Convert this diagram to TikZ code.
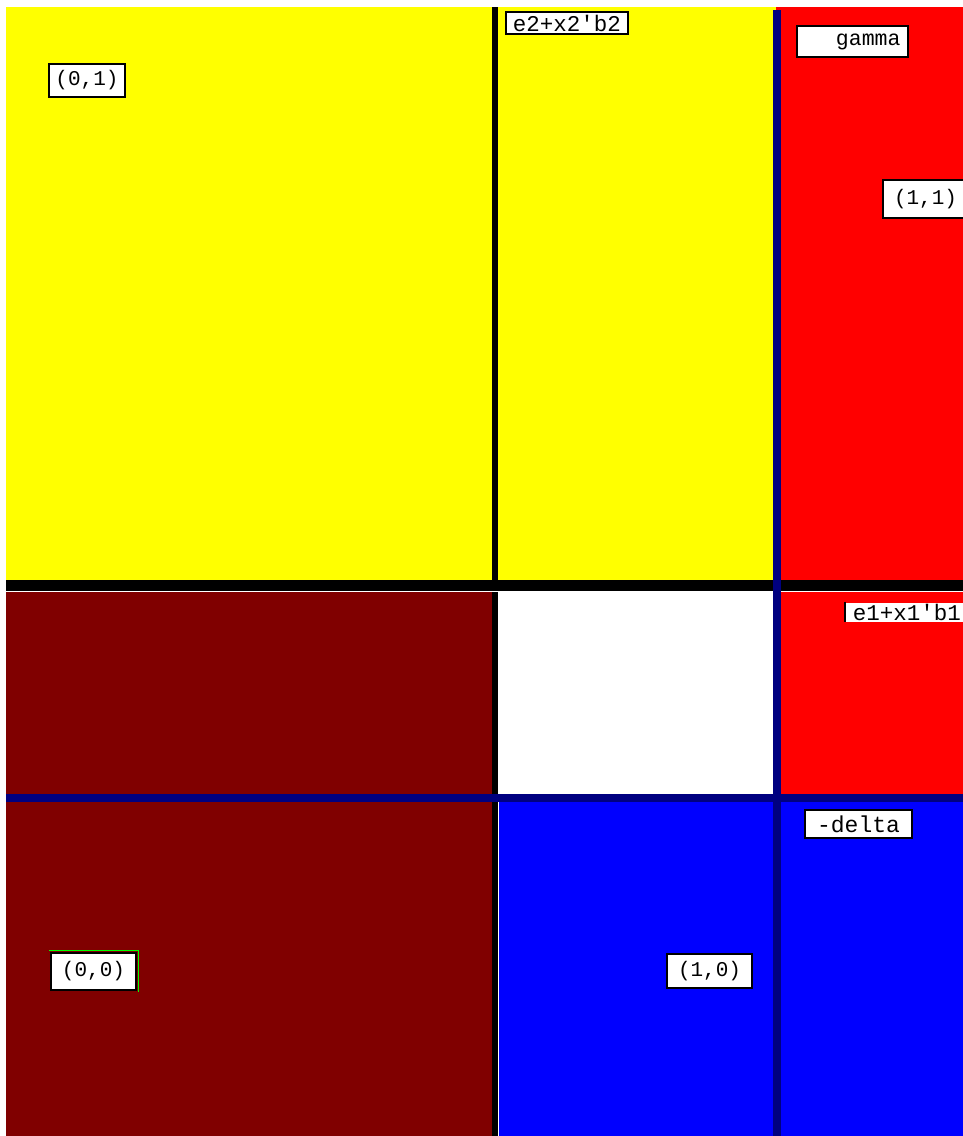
\documentclass[tikz,border=0pt]{standalone}
\usepackage{fontspec}
\newfontfamily\labelfont{Liberation Mono}
\definecolor{yellowc}{RGB}{255,255,0}
\definecolor{redc}{RGB}{255,0,0}
\definecolor{bluec}{RGB}{0,0,255}
\definecolor{maroonc}{RGB}{128,0,0}
\definecolor{navyc}{RGB}{0,0,128}
\definecolor{greenc}{RGB}{0,255,0}
\tikzset{
  lbl/.style={draw=black, fill=white, line width=1.6pt, inner sep=0pt,
    font=\labelfont\fontsize{21}{21}\selectfont, text=black},
}
\begin{document}
\begin{tikzpicture}[x=1pt,y=-1pt]
\useasboundingbox (0,0) rectangle (963,1136);
% regions
\fill[yellowc] (6,7) rectangle (776,582);
\fill[redc] (776,7) rectangle (963,797);
\fill[maroonc] (6,585) rectangle (495,1136);
\fill[white] (495,585) rectangle (776,797);
\fill[bluec] (495,797) rectangle (963,1136);
% lines
\fill[black] (492,7) rectangle (498,1136);
\fill[black] (6,580) rectangle (963,591);
\draw[white, line width=0.8pt] (6,591.5) -- (963,591.5);
\draw[white, line width=0.8pt] (498.6,591) -- (498.6,1136);
\fill[navyc] (773,10) rectangle (781,1136);
\fill[navyc] (6,794) rectangle (963,802);
% labels
\node[lbl, minimum width=76, minimum height=33] (l01) at (87,80.5) {(0,1)};
\node[lbl, minimum width=122, minimum height=22, font=\labelfont\fontsize{22.5}{22}\selectfont] (le2) at (567,23) {e2+x2'b2};
\node[lbl, minimum width=111, minimum height=31, text width=96, align=right, font=\labelfont\fontsize{21.5}{21}\selectfont] (lgam) at (852.5,41.5) {gamma};
\node[lbl, minimum width=85, minimum height=38] (l11) at (925.5,199) {(1,1)};
\node[lbl, draw=none, minimum width=123, minimum height=19, font=\labelfont\fontsize{22.5}{22}\selectfont] (le1) at (907,612) {e1+x1'b1};
\draw[black, line width=1.6pt] (le1.north west) -- (le1.south west);
\node[lbl, minimum width=107, minimum height=28, font=\labelfont\fontsize{23}{22}\selectfont] (ldel) at (858.5,824) {-delta};
\node[lbl, minimum width=85, minimum height=37] (l00) at (93.5,971.5) {(0,0)};
\draw[greenc, line width=1.2pt] ([shift={(-1,-1.5)}]l00.north west) -- ([shift={(1.5,-1.5)}]l00.north east) -- ([shift={(1.5,1)}]l00.south east);
\node[lbl, minimum width=85, minimum height=34] (l10) at (709.5,971) {(1,0)};
\end{tikzpicture}
\end{document}
